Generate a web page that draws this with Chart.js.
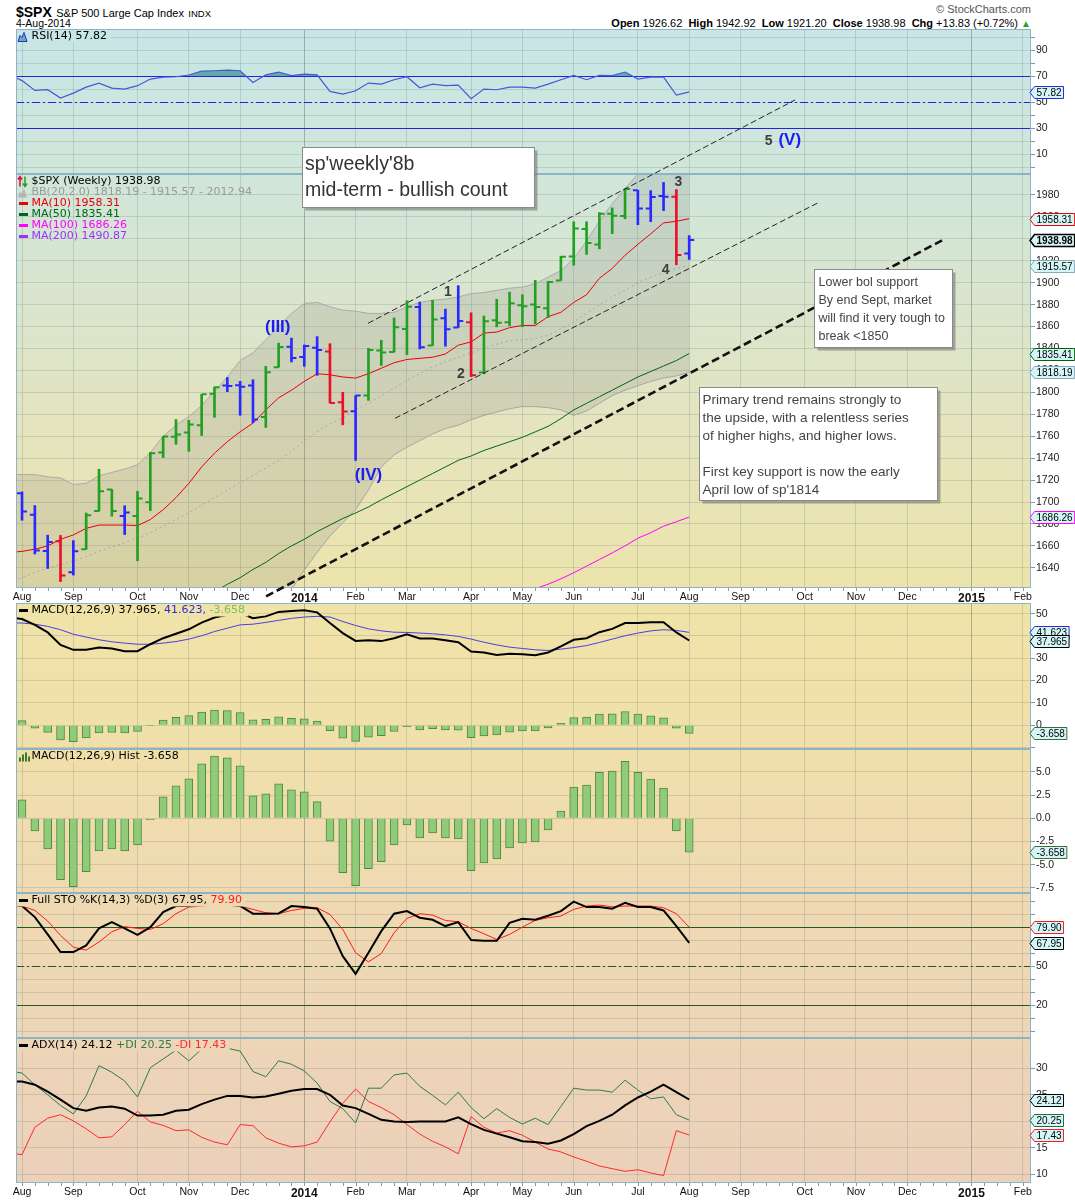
<!DOCTYPE html>
<html>
<head>
<meta charset="utf-8">
<title>$SPX weekly</title>
<script src="https://cdn.jsdelivr.net/npm/chart.js@4.4.1/dist/chart.umd.min.js"></script>
<style>
  body { margin: 0; width: 1075px; height: 1200px; background: #fff; position: relative; overflow: hidden; font-family: "Liberation Sans", Arial, sans-serif; }
  canvas { position: absolute; left: 0; }
  .hd { position: absolute; white-space: nowrap; color: #000; line-height: 1; }
  .hd b { font-weight: bold; }
</style>
</head>
<body>
<div class="hd" style="left:16px;top:4px"><span style="font-weight:bold;font-size:14px">$SPX</span> <span style="font-size:11px">S&amp;P 500 Large Cap Index</span> <span style="font-size:9.5px">INDX</span></div>
<div class="hd" style="left:16px;top:18px;font-size:10.5px">4-Aug-2014</div>
<div class="hd" style="right:44px;top:4px;font-size:11px;color:#555">&copy; StockCharts.com</div>
<div class="hd" id="quote" style="right:44px;top:18px;font-size:11px"></div>

<canvas id="rsi" width="1075" height="145" style="top:29px"></canvas>
<canvas id="macd" width="1075" height="146" style="top:603px"></canvas>
<canvas id="hist" width="1075" height="144" style="top:749px"></canvas>
<canvas id="sto" width="1075" height="145" style="top:893px"></canvas>
<canvas id="adx" width="1075" height="162" style="top:1038px"></canvas>
<canvas id="price" width="1075" height="605" style="top:0px"></canvas>

<script>
const X_MIN = -0.47, X_MAX = 78.64;
const AX = '"Liberation Sans", Arial, sans-serif';
const LG = '"DejaVu Sans", Verdana, sans-serif';
Chart.defaults.font.family = AX;

// weekly axis: week 0 = 5-Aug-2013 ... week 52 = 4-Aug-2014; series start one week earlier (29-Jul-2013)
const monthTicks = [0, 4, 9, 13, 17, 22, 26, 30, 35, 39, 43, 48, 52, 56, 61, 65, 69, 74, 78];
const monthLabels = ['Aug', 'Sep', 'Oct', 'Nov', 'Dec', '2014', 'Feb', 'Mar', 'Apr', 'May', 'Jun', 'Jul', 'Aug', 'Sep', 'Oct', 'Nov', 'Dec', '2015', 'Feb'];

const opens = [1685.97, 1708.01, 1688.37, 1655.25, 1664.29, 1635.95, 1656.85, 1691.70, 1711.44, 1687.26, 1687.15, 1699.86, 1745.20, 1759.42, 1763.40, 1769.96, 1798.82, 1806.33, 1806.55, 1806.21, 1777.48, 1822.92, 1841.47, 1832.31, 1840.76, 1837.28, 1791.03, 1782.68, 1797.02, 1838.22, 1836.78, 1857.68, 1877.86, 1842.81, 1867.67, 1859.16, 1863.92, 1818.18, 1865.79, 1864.00, 1879.45, 1880.03, 1876.66, 1902.01, 1923.87, 1948.97, 1934.84, 1962.92, 1960.79, 1984.22, 1967.68, 1979.03, 1978.25, 1926.62];
const highs = [1709.67, 1709.24, 1696.81, 1669.79, 1669.51, 1664.83, 1689.98, 1729.86, 1711.44, 1696.55, 1709.74, 1745.31, 1759.82, 1775.22, 1774.54, 1798.22, 1804.84, 1813.55, 1810.02, 1811.52, 1823.75, 1844.89, 1849.44, 1843.23, 1850.84, 1844.37, 1800.00, 1797.02, 1840.16, 1847.50, 1867.92, 1883.57, 1882.35, 1883.97, 1875.92, 1897.28, 1872.53, 1869.63, 1884.89, 1891.33, 1889.07, 1902.17, 1901.26, 1924.03, 1955.55, 1955.59, 1963.91, 1968.17, 1985.59, 1984.22, 1983.94, 1991.39, 1984.85, 1942.92];
const lows = [1684.91, 1683.37, 1652.61, 1639.43, 1627.47, 1633.41, 1656.85, 1691.70, 1687.11, 1670.36, 1646.47, 1692.13, 1740.50, 1752.70, 1746.20, 1760.64, 1777.23, 1800.58, 1779.09, 1772.28, 1767.99, 1822.92, 1827.74, 1823.73, 1815.52, 1790.29, 1770.45, 1737.92, 1792.71, 1824.58, 1836.78, 1834.44, 1839.57, 1842.81, 1842.11, 1859.16, 1814.36, 1816.89, 1859.70, 1860.76, 1859.79, 1862.36, 1868.14, 1902.01, 1915.98, 1925.78, 1930.91, 1944.69, 1958.22, 1952.86, 1955.59, 1965.72, 1916.37, 1921.20];
const closes = [1709.67, 1691.42, 1655.83, 1663.50, 1632.97, 1655.17, 1687.99, 1709.91, 1691.75, 1690.50, 1703.20, 1744.50, 1759.77, 1761.64, 1770.61, 1798.18, 1804.76, 1805.81, 1805.09, 1775.32, 1818.32, 1841.40, 1831.37, 1842.37, 1838.70, 1790.29, 1782.59, 1797.02, 1838.63, 1836.25, 1859.45, 1878.04, 1841.13, 1866.52, 1857.62, 1865.09, 1815.69, 1864.85, 1863.40, 1881.14, 1878.48, 1877.86, 1900.53, 1923.57, 1949.44, 1936.16, 1962.87, 1960.96, 1985.44, 1967.57, 1978.22, 1978.34, 1925.15, 1938.98];
// bar colouring as shown: g = green, b = blue, r = red
const impulse = ['g', 'b', 'b', 'b', 'r', 'b', 'g', 'g', 'g', 'b', 'g', 'g', 'g', 'g', 'g', 'g', 'g', 'b', 'b', 'b', 'g', 'g', 'b', 'b', 'b', 'r', 'r', 'b', 'g', 'g', 'g', 'g', 'b', 'g', 'b', 'b', 'r', 'g', 'g', 'g', 'g', 'g', 'g', 'g', 'g', 'g', 'g', 'g', 'g', 'b', 'b', 'b', 'r', 'b'];

const bbUpper = [1725, 1725, 1725, 1723, 1722, 1716, 1717, 1724, 1727, 1730, 1734, 1745, 1760, 1770, 1778, 1788, 1801, 1814, 1829, 1836, 1848, 1860, 1872, 1881, 1882, 1878, 1875, 1874, 1872, 1872, 1873, 1878, 1882, 1884, 1885, 1887, 1890, 1891, 1893, 1895, 1896, 1899, 1905, 1911, 1922, 1938, 1956, 1972, 1986, 1999, 2007, 2011, 2013, 2012.94];
const bbMiddle = [1627, 1631, 1636, 1640, 1643, 1646, 1650, 1655, 1659, 1663, 1667, 1672, 1678, 1684, 1690, 1697, 1704, 1711, 1718, 1724, 1731, 1738, 1746, 1756, 1764, 1771, 1777, 1784, 1790, 1797, 1804, 1811, 1817, 1823, 1828, 1832, 1836, 1840, 1844, 1847, 1848, 1849, 1852, 1858, 1864, 1872, 1880, 1887, 1893, 1900, 1905, 1909, 1913, 1915.57];
const bbLower = [1530, 1538, 1547, 1557, 1564, 1576, 1583, 1586, 1591, 1596, 1600, 1599, 1596, 1598, 1602, 1606, 1607, 1608, 1607, 1612, 1614, 1616, 1620, 1638, 1654, 1669, 1681, 1693, 1711, 1732, 1743, 1750, 1756, 1762, 1767, 1770, 1775, 1779, 1782, 1785, 1787, 1787, 1786, 1784, 1779, 1783, 1790, 1797, 1802, 1806, 1810, 1813, 1815, 1818.19];
const ma10 = [1654, 1655, 1657, 1660, 1666, 1670, 1676, 1679, 1679, 1679, 1678.5, 1684, 1693, 1704, 1717, 1732, 1744.5, 1755, 1764, 1772, 1784, 1795, 1802, 1810, 1817, 1816, 1814, 1813, 1817, 1822, 1827, 1830, 1831, 1832, 1835, 1843, 1846, 1854, 1855, 1859, 1861, 1861, 1869, 1873, 1882, 1889, 1904, 1913, 1925, 1935, 1944.5, 1954.5, 1956, 1958.31];
const ma50 = [null, null, null, null, null, null, null, null, null, null, null, null, null, null, null, 1612, 1618, 1625, 1631, 1638.5, 1645, 1653, 1660, 1666, 1673, 1679, 1685, 1690, 1695.5, 1702, 1708, 1714, 1720, 1726, 1732, 1738, 1742, 1747, 1751, 1755, 1759, 1764, 1769, 1776, 1784, 1790, 1796, 1802, 1808, 1814, 1819, 1824, 1829, 1835.41];
const ma100 = [null, null, null, null, null, null, null, null, null, null, null, null, null, null, null, null, null, null, null, null, null, null, null, null, null, null, null, null, null, null, null, null, null, null, null, null, null, null, null, 1614, 1617, 1621, 1625, 1630, 1635.5, 1641.5, 1647.6, 1653.6, 1660, 1667, 1672, 1678, 1682, 1686.26];
const ma200Last = 1490.87;

const rsi = [71, 66.5, 59, 59.5, 53.1, 56.9, 61.5, 64.6, 60.8, 60, 62.6, 67.7, 69.2, 69.5, 70.8, 73.8, 74.1, 74.6, 74.1, 65.1, 71, 73.1, 70.3, 71.5, 71, 58.2, 56.2, 58.7, 64.6, 63.8, 67.2, 69.5, 61, 63.8, 62.6, 63.1, 52.6, 60, 59.5, 61.5, 61.5, 60.8, 63.8, 67.2, 70.5, 67.2, 70.5, 70.3, 73.1, 67.7, 69.2, 69.2, 55.4, 57.82];
const rsiLevels = [70, 50, 30];

const macd = [48.3, 47.6, 45, 41.6, 36, 33.8, 33.8, 34.8, 34.4, 33.2, 33.2, 36.3, 39, 41, 43, 46, 48.3, 49.5, 50.3, 48, 48.8, 50.8, 51.2, 51.5, 50.6, 45.8, 41.3, 37.8, 38.1, 37.7, 39, 40.8, 38.9, 38.9, 38.1, 37.2, 33, 32.6, 31.5, 32, 31.8, 31.4, 32.6, 35.3, 38.3, 39, 41.7, 43.2, 45.8, 45.8, 46.2, 46.2, 41.6, 37.965];
const macdSignal = [46.0, 45.8, 45.3, 44.3, 42.8, 40.8, 39.5, 38.3, 37.4, 36.8, 36.3, 36.3, 36.8, 37.5, 38.6, 40.1, 42, 43.5, 45, 45.3, 46.1, 47, 47.9, 48.5, 48.8, 48.5, 46.5, 44.7, 43.2, 42.3, 41.7, 41.6, 41.3, 41, 40.5, 39.8, 38.6, 37.2, 36, 35, 34.4, 33.8, 33.5, 34.1, 34.8, 35.7, 37.1, 38.6, 40.1, 41.3, 42.3, 42.8, 42.5, 41.623];
const macdHist = [2.4, 2.0, -1.36, -3.29, -6.6, -7.36, -5.75, -3.5, -3.29, -3.5, -2.86, -0.18, 2.32, 3.5, 4.25, 5.86, 6.71, 6.5, 5.64, 2.43, 2.64, 3.71, 3.07, 2.86, 1.79, -2.46, -5.86, -7.25, -5.43, -4.68, -2.86, -0.71, -2.1, -1.57, -2.1, -2.21, -5.64, -4.79, -4.36, -3.18, -2.64, -2.54, -1.25, 0.79, 3.36, 3.57, 4.96, 5.07, 6.14, 4.96, 4.21, 3.25, -1.36, -3.658];

const stoK = [97, 96.2, 87.7, 74.4, 60.8, 60.8, 65.9, 79, 83.8, 79, 74.1, 80, 91.5, 96.2, 96.2, 97.4, 97, 97.4, 96.2, 90.3, 90.3, 90.5, 96.2, 95.4, 94.1, 79, 57.7, 44.1, 60.3, 76.9, 90.3, 92.3, 87.2, 85.6, 80.8, 83.8, 70, 69.5, 69.5, 83.3, 86.4, 85.6, 88.7, 92.3, 99.6, 95.4, 95.4, 94.1, 98.7, 95.4, 95.4, 92.8, 80.8, 67.95];
const stoD = [96.5, 96.2, 92.8, 84.6, 73.6, 64.6, 62.3, 68.5, 76.4, 80.3, 79, 78.2, 82.6, 90.3, 95.4, 96.2, 97, 97, 96.2, 93.6, 91, 90.3, 92.8, 94.4, 94.9, 89.7, 78.2, 60.3, 53.3, 59.7, 75.6, 86.7, 90.3, 89.2, 85.1, 84.1, 79, 74.9, 70.5, 74.4, 80, 85.1, 87.2, 88.5, 93.6, 96.2, 96.9, 95.6, 96.2, 96.2, 96.2, 94.9, 90.3, 79.90];
const stoLevels = [80, 50, 20];

const adx = [27.5, 27.5, 26.9, 25.6, 24.1, 22.5, 22, 22.6, 22.8, 22.4, 21.1, 21.1, 21.25, 22, 22.2, 23.25, 24.1, 24.8, 24.8, 24.5, 24.7, 25.2, 25.75, 26.1, 26.1, 25, 23, 22.5, 21.4, 20.3, 20, 19.9, 20, 20, 20, 20.75, 19.5, 18.4, 17.7, 17, 16.25, 16.1, 15.8, 16.4, 17.6, 19.1, 20.1, 21.25, 23, 24.5, 25.6, 26.9, 25.5, 24.12];
const plusDI = [29.5, 29.1, 26.9, 25, 23, 21.4, 24.8, 30.5, 29.25, 27.6, 24.6, 30.1, 31.75, 33.4, 31.4, 33.6, 33.4, 33.75, 33.25, 29.4, 28.4, 31.4, 30.75, 29.5, 27.2, 23.75, 22.4, 19.7, 26.25, 26.25, 28.75, 29.1, 26.6, 24.9, 23.1, 25.5, 22.6, 20.5, 22.4, 20.75, 19.5, 20.6, 19.4, 22.8, 26.25, 25.9, 25.9, 25.5, 27.75, 25.9, 24.25, 24.6, 21.25, 20.25];
const minusDI = [14, 13.75, 18.9, 20.6, 21.25, 20.1, 18.6, 16.9, 17.1, 19.4, 21.9, 19.9, 19.25, 18.25, 18.4, 17, 16.1, 15.6, 19.4, 19.2, 16.9, 15.9, 15.2, 15.4, 16.1, 19.9, 23.4, 26.1, 23.75, 22.6, 21.25, 19.4, 17.6, 16.25, 15.2, 13.9, 20.9, 18.9, 17.8, 18.25, 17.4, 16.1, 14.8, 14.25, 13.3, 12.5, 11.6, 11.1, 10.6, 10.9, 10.3, 9.8, 18.25, 17.43];

// hand-drawn annotations, in chart units (week, price)
const trendLines = [[26.97, 1863, 60.25, 2066.6], [29.07, 1776.3, 62.02, 1972.7], [19.02, 1614, 71.94, 1940]];
const waveLabels = [['(III)', 19.93, 1859.6], ['(IV)', 27, 1724.8], ['1', 33.2, 1891], ['2', 34.2, 1816.6], ['3', 51.15, 1991.5], ['4', 50.17, 1911], ['5', 58.2, 2029.4], ['(V)', 59.84, 2029.4]];
const notes = [
  { at: [21.82, 2023.3, 39.9, 1969.4], text: ["sp'weekly'8b", 'mid-term - bullish count'] },
  { at: [61.75, 1912.7, 72.46, 1841.5], text: ['Lower bol support', 'By end Sept, market', 'will find it very tough to', 'break <1850'] },
  { at: [52.79, 1805.1, 71.29, 1701.5], text: ['Primary trend remains strongly to', 'the upside, with a relentless series', 'of higher highs, and higher lows.', '', 'First key support is now the early', "April low of sp'1814"] }
];

// ---- styles ----
const trendStyle = [
  { color: '#222', width: 1, dash: [6, 3] },
  { color: '#222', width: 1, dash: [6, 3] },
  { color: '#111', width: 2.6, dash: [8, 4] }
];
const noteStyle = [
  { font: '19.5px ' + AX, color: '#333', padX: 2.5, first: 17.5, lead: 25.7 },
  { font: '12.5px ' + AX, color: '#444', padX: 4, first: 13.5, lead: 18 },
  { font: '13.5px ' + AX, color: '#444', padX: 3, first: 12.8, lead: 18 }
];
const barColors = { g: '#22a022', b: '#2a2aff', r: '#e8102a' };
const bgStops = [[29, [200, 230, 230]], [174, [208, 230, 218]], [300, [218, 229, 206]], [450, [230, 228, 188]], [588, [237, 228, 172]], [603, [240, 227, 168]], [749, [240, 223, 171]], [893, [239, 217, 178]], [1038, [237, 213, 183]], [1183, [235, 208, 186]]];

const pts = arr => arr.map((v, i) => ({ x: i - 1, y: v })).filter(p => p.y !== null);
const last = arr => arr[arr.length - 1];
const f2 = v => v.toFixed(2), f3 = v => v.toFixed(3);

function bgAt(y) {
  let i = 0;
  while (i < bgStops.length - 2 && y > bgStops[i + 1][0]) i++;
  const [y0, c0] = bgStops[i], [y1, c1] = bgStops[i + 1];
  const t = Math.min(1, Math.max(0, (y - y0) / (y1 - y0)));
  return 'rgb(' + c0.map((v, k) => Math.round(v + (c1[k] - v) * t)).join(',') + ')';
}

function drawIcon(c, icon, left, y) {
  const kind = Array.isArray(icon) ? icon[0] : icon;
  c.save();
  if (kind === 'dash') {
    c.strokeStyle = icon[1]; c.lineWidth = 3;
    c.beginPath(); c.moveTo(left + 3, y); c.lineTo(left + 12, y); c.stroke();
  } else if (kind === 'rsi' || kind === 'bb') {
    c.beginPath();
    c.moveTo(left + 2, y + 5); c.lineTo(left + 4, y - 1); c.lineTo(left + 6, y + 1);
    c.lineTo(left + 8, y - 4); c.lineTo(left + 11, y + 5); c.closePath();
    c.fillStyle = kind === 'rsi' ? '#5fb2b0' : '#b5b5ad'; c.fill();
    if (kind === 'rsi') { c.strokeStyle = '#2a2ad8'; c.lineWidth = 1; c.stroke(); }
  } else if (kind === 'hist') {
    c.fillStyle = '#3d7a2e';
    [[3, 4], [6, 7], [9, 9], [12, 5]].forEach(([dx, h]) => c.fillRect(left + dx, y + 5 - h, 2, h));
  } else if (kind === 'ohlc') {
    c.lineWidth = 1.5;
    c.strokeStyle = '#e0102a';
    c.beginPath(); c.moveTo(left + 4, y + 5); c.lineTo(left + 4, y - 4); c.moveTo(left + 2, y - 2); c.lineTo(left + 4, y - 5); c.lineTo(left + 6, y - 2); c.stroke();
    c.strokeStyle = '#20a020';
    c.beginPath(); c.moveTo(left + 9, y - 5); c.lineTo(left + 9, y + 4); c.moveTo(left + 7, y + 2); c.lineTo(left + 9, y + 5); c.lineTo(left + 11, y + 2); c.stroke();
  }
  c.restore();
}

function drawLegend(chart, pageTop, lines) {
  const c = chart.ctx, a = chart.chartArea;
  c.save();
  c.font = '11px ' + LG;
  c.textBaseline = 'middle';
  lines.forEach((ln, k) => {
    const y = a.top + 7.5 + k * 11;
    const w = ln.parts.reduce((s, p) => s + c.measureText(p[0]).width, 0);
    if (ln.bg) { c.fillStyle = bgAt(pageTop + y); c.fillRect(a.left + 1, y - 6, w + 18, 12); }
    drawIcon(c, ln.icon, a.left, y);
    let x = a.left + 15.5;
    ln.parts.forEach(p => { c.fillStyle = p[1]; c.fillText(p[0], x, y); x += c.measureText(p[0]).width; });
  });
  c.restore();
}

function drawTags(chart, tags) {
  const c = chart.ctx, a = chart.chartArea, ys = chart.scales.y;
  c.save();
  c.textBaseline = 'middle';
  tags.forEach(t => {
    c.font = (t.bold ? 'bold ' : '') + '10px ' + AX;
    const y = Math.round(ys.getPixelForValue(t.value)) + 0.5;
    const w = c.measureText(t.text).width + 4;
    const x0 = a.right - 1, x1 = a.right + 3.5, x2 = x1 + w;
    c.beginPath();
    c.moveTo(x0, y); c.lineTo(x1, y - 6); c.lineTo(x2, y - 6); c.lineTo(x2, y + 6); c.lineTo(x1, y + 6); c.closePath();
    c.fillStyle = '#d4f6f6'; c.fill();
    c.strokeStyle = t.border; c.lineWidth = t.bold ? 1.5 : 1; c.stroke();
    c.fillStyle = '#000';
    c.fillText(t.text, x1 + 2, y + 0.5);
  });
  c.restore();
}

function panelPlugin(pageTop, cfg) {
  return {
    id: 'panel',
    beforeDraw(chart) {
      const a = chart.chartArea, c = chart.ctx;
      const g = c.createLinearGradient(0, a.top, 0, a.bottom);
      for (let k = 0; k <= 8; k++) g.addColorStop(k / 8, bgAt(pageTop + a.top + (a.bottom - a.top) * k / 8));
      c.save(); c.fillStyle = g; c.fillRect(a.left, a.top, a.right - a.left, a.bottom - a.top); c.restore();
    },
    beforeDatasetsDraw(chart) {
      const a = chart.chartArea, c = chart.ctx, ys = chart.scales.y;
      (cfg.levels || []).forEach((v, k) => {
        c.save();
        c.strokeStyle = cfg.levelColor; c.lineWidth = 1.2;
        c.setLineDash(k === 1 ? [8, 3, 2, 3] : []);
        const py = Math.round(ys.getPixelForValue(v)) + 0.5;
        c.beginPath(); c.moveTo(a.left, py); c.lineTo(a.right, py); c.stroke();
        c.restore();
      });
    },
    afterDraw(chart) {
      const a = chart.chartArea, c = chart.ctx, xs = chart.scales.x;
      c.save();
      c.strokeStyle = '#8db3c6'; c.lineWidth = 1;
      c.strokeRect(Math.round(a.left) + 0.5, Math.round(a.top) + 0.5, Math.round(a.right - a.left) - 1, Math.round(a.bottom - a.top) - 1);
      if (cfg.xLabels) {
        c.strokeStyle = '#8a9aa2';
        c.beginPath();
        for (let w = 0; w <= 78; w++) {
          const x = Math.round(xs.getPixelForValue(w)) + 0.5;
          c.moveTo(x, a.bottom); c.lineTo(x, a.bottom + 3);
        }
        c.stroke();
      }
      c.restore();
      if (cfg.legend) drawLegend(chart, pageTop, cfg.legend);
      if (cfg.tags) drawTags(chart, cfg.tags);
    }
  };
}

function xAxis(show) {
  const isYear = i => /^\d/.test(monthLabels[i] || '');
  return {
    type: 'linear', min: X_MIN, max: X_MAX, offset: false,
    afterBuildTicks: s => { s.ticks = monthTicks.map(v => ({ value: v })); },
    afterFit: s => { s.height = show ? 17 : 0; s.paddingLeft = 0; s.paddingRight = 0; },
    border: { display: false },
    grid: { offset: false, drawTicks: false, color: c => isYear(c.index) ? 'rgba(90,110,105,0.45)' : 'rgba(110,130,125,0.26)' },
    ticks: {
      display: show, autoSkip: false, maxRotation: 0, padding: 3, color: '#111',
      callback: (v, i) => monthLabels[i],
      font: c => isYear(c.index) ? { family: AX, size: 12, weight: 'bold' } : { family: AX, size: 10.5 }
    }
  };
}

function yAxis(o) {
  return {
    position: 'right', min: o.min, max: o.max,
    afterBuildTicks: s => { s.ticks = o.ticks.map(v => ({ value: v })); },
    afterFit: s => { s.width = 44; s.paddingTop = 0; s.paddingBottom = 0; },
    border: { display: false },
    grid: { color: 'rgba(90,110,110,0.2)', tickLength: 4, tickColor: '#7d98a6' },
    ticks: { autoSkip: false, padding: 1, color: '#222', font: { family: AX, size: 10.5 }, callback: o.label }
  };
}

function makeChart(id, pageTop, cfg) {
  return new Chart(document.getElementById(id), {
    type: 'bar',
    data: { datasets: cfg.datasets },
    options: {
      responsive: false, animation: false, events: [],
      layout: { padding: { left: 16, right: 0, top: cfg.padTop || 0, bottom: 0 } },
      plugins: { legend: { display: false }, tooltip: { enabled: false } },
      elements: { point: { radius: 0 }, line: { borderWidth: 1, tension: 0 } },
      scales: { x: xAxis(!!cfg.xLabels), y: yAxis(cfg.y) }
    },
    plugins: [panelPlugin(pageTop, cfg)].concat(cfg.extra || [])
  });
}

const line = (arr, color, width, extra) => Object.assign({ type: 'line', data: pts(arr), borderColor: color, borderWidth: width, pointRadius: 0, fill: false }, extra || {});
const range = (a, b, step) => { const r = []; for (let v = a; v <= b + 1e-9; v += step) r.push(+v.toFixed(2)); return r; };

// ---- RSI ----
makeChart('rsi', 29, {
  y: { min: -5.3, max: 106.2, ticks: range(0, 100, 10), label: v => (v % 20 === 10 ? v : '') },
  levels: rsiLevels, levelColor: '#2424d8',
  datasets: [line(rsi, '#4a56d8', 1.2, { fill: { target: { value: 70 }, above: 'rgba(78,160,160,0.85)', below: 'rgba(0,0,0,0)' } })],
  legend: [{ icon: 'rsi', bg: true, parts: [['RSI(14) ' + f2(last(rsi)), '#000']] }],
  tags: [{ value: last(rsi), text: f2(last(rsi)), border: '#2a2ae0' }]
});

// ---- MACD ----
makeChart('macd', 603, {
  y: { min: -10.7, max: 54.8, ticks: range(-10, 50, 10), label: v => (v >= 0 ? v : '') },
  datasets: [
    line(macd, '#000', 2),
    line(macdSignal, '#4b3fe0', 1),
    { type: 'bar', data: pts(macdHist), backgroundColor: '#8fcb78', borderColor: '#4e8c3e', borderWidth: 1, barThickness: 8 }
  ],
  legend: [{ icon: ['dash', '#000'], bg: true, parts: [['MACD(12,26,9) ' + f3(last(macd)) + ',', '#000'], [' ' + f3(last(macdSignal)) + ',', '#2a2ae0'], [' ' + f3(last(macdHist)), '#7cc05a']] }],
  tags: [
    { value: last(macdSignal), text: f3(last(macdSignal)), border: '#2a2ae0' },
    { value: last(macd), text: f3(last(macd)), border: '#000' },
    { value: last(macdHist), text: f3(last(macdHist)), border: '#3d6e32' }
  ]
});

// ---- MACD histogram ----
makeChart('hist', 749, {
  y: { min: -8.04, max: 7.46, ticks: [-7.5, -5, -2.5, 0, 2.5, 5], label: v => v.toFixed(1) },
  datasets: [{ type: 'bar', data: pts(macdHist), backgroundColor: '#8fcb78', borderColor: '#4e8c3e', borderWidth: 1, barThickness: 8 }],
  legend: [{ icon: 'hist', bg: true, parts: [['MACD(12,26,9) Hist ' + f3(last(macdHist)), '#000']] }],
  tags: [{ value: last(macdHist), text: f3(last(macdHist)), border: '#3d6e32' }]
});

// ---- Full stochastics ----
makeChart('sto', 893, {
  y: { min: -5.2, max: 106.2, ticks: range(0, 100, 10), label: v => ([20, 50, 80].includes(v) ? v : '') },
  levels: stoLevels, levelColor: '#1e5c1e',
  datasets: [line(stoK, '#000', 2), line(stoD, '#ff1a1a', 1)],
  legend: [{ icon: ['dash', '#000'], bg: true, parts: [['Full STO %K(14,3) %D(3) ' + f2(last(stoK)) + ',', '#000'], [' ' + f2(last(stoD)), '#ff1a1a']] }],
  tags: [
    { value: last(stoD), text: f2(last(stoD)), border: '#ff1a1a' },
    { value: last(stoK), text: f2(last(stoK)), border: '#000' }
  ]
});

// ---- ADX ----
makeChart('adx', 1038, {
  xLabels: true,
  y: { min: 8.4, max: 35.7, ticks: [10, 15, 20, 25, 30], label: v => v },
  datasets: [line(adx, '#000', 2), line(plusDI, '#2d7b4b', 1), line(minusDI, '#ff2a2a', 1)],
  legend: [{ icon: ['dash', '#000'], bg: true, parts: [['ADX(14) ' + f2(last(adx)), '#000'], [' +DI ' + f2(last(plusDI)), '#2d7b4b'], [' -DI ' + f2(last(minusDI)), '#ff2a2a']] }],
  tags: [
    { value: last(adx), text: f2(last(adx)), border: '#000' },
    { value: last(plusDI), text: f2(last(plusDI)), border: '#1d6b45' },
    { value: last(minusDI), text: f2(last(minusDI)), border: '#ff1a1a' }
  ]
});

// ---- price panel ----
const ohlcTicks = {
  id: 'ohlcTicks',
  afterDatasetsDraw(chart) {
    const c = chart.ctx, a = chart.chartArea, xs = chart.scales.x, ys = chart.scales.y;
    c.save();
    c.beginPath(); c.rect(a.left, a.top, a.right - a.left, a.bottom - a.top); c.clip();
    c.lineWidth = 2;
    opens.forEach((o, i) => {
      const x = xs.getPixelForValue(i - 1);
      const yo = ys.getPixelForValue(o), yc = ys.getPixelForValue(closes[i]);
      c.strokeStyle = barColors[impulse[i]];
      c.beginPath(); c.moveTo(x - 5, yo); c.lineTo(x, yo); c.moveTo(x, yc); c.lineTo(x + 5, yc); c.stroke();
    });
    c.restore();
  }
};

const priceNotes = {
  id: 'priceNotes',
  afterDraw(chart) {
    const c = chart.ctx, xs = chart.scales.x, ys = chart.scales.y;
    const px = v => xs.getPixelForValue(v), py = v => ys.getPixelForValue(v);
    c.save();
    trendLines.forEach((t, k) => {
      const st = trendStyle[k];
      c.strokeStyle = st.color; c.lineWidth = st.width; c.setLineDash(st.dash);
      c.beginPath(); c.moveTo(px(t[0]), py(t[1])); c.lineTo(px(t[2]), py(t[3])); c.stroke();
    });
    c.setLineDash([]);
    c.textAlign = 'center'; c.textBaseline = 'middle';
    waveLabels.forEach(([txt, x, y]) => {
      const roman = txt.startsWith('(');
      c.font = (roman ? 'bold 17px ' : 'bold 14px ') + AX;
      c.fillStyle = roman ? '#1c1cf5' : '#3d3d3d';
      c.fillText(txt, px(x), py(y));
    });
    c.textAlign = 'left';
    notes.forEach((n, k) => {
      const st = noteStyle[k];
      const x0 = Math.round(px(n.at[0])) + 0.5, y0 = Math.round(py(n.at[1])) + 0.5;
      const x1 = Math.round(px(n.at[2])) + 0.5, y1 = Math.round(py(n.at[3])) + 0.5;
      c.fillStyle = 'rgba(110,110,110,0.55)'; c.fillRect(x0 + 3, y0 + 3, x1 - x0, y1 - y0);
      c.fillStyle = '#fff'; c.fillRect(x0, y0, x1 - x0, y1 - y0);
      c.strokeStyle = '#8a8a8a'; c.lineWidth = 1; c.strokeRect(x0, y0, x1 - x0, y1 - y0);
      c.font = st.font; c.fillStyle = st.color;
      n.text.forEach((ln, j) => c.fillText(ln, x0 + st.padX, y0 + st.first + j * st.lead));
    });
    c.restore();
  }
};

makeChart('price', 0, {
  padTop: 174, xLabels: true,
  y: { min: 1621.6, max: 1999.1, ticks: range(1640, 1980, 20), label: v => v },
  datasets: [
    { type: 'bar', data: highs.map((h, i) => ({ x: i - 1, y: [lows[i], h] })), backgroundColor: impulse.map(k => barColors[k]), borderWidth: 0, barThickness: 2 },
    line(ma10, '#e8000b', 1),
    line(ma50, '#00641e', 1),
    line(ma100, '#ff00ff', 1),
    line(bbMiddle, '#a9a9a9', 1, { borderDash: [2, 3] }),
    line(bbUpper, '#ababab', 1, { fill: { target: '+1' }, backgroundColor: 'rgba(120,120,120,0.17)' }),
    line(bbLower, '#ababab', 1)
  ],
  extra: [ohlcTicks, priceNotes],
  legend: [
    { icon: 'ohlc', parts: [['$SPX (Weekly) ' + f2(last(closes)), '#000']] },
    { icon: 'bb', parts: [['BB(20,2.0) ' + f2(last(bbLower)) + ' - ' + f2(last(bbMiddle)) + ' - ' + f2(last(bbUpper)), '#9a9a9a']] },
    { icon: ['dash', '#e8000b'], parts: [['MA(10) ' + f2(last(ma10)), '#e8000b']] },
    { icon: ['dash', '#00641e'], parts: [['MA(50) ' + f2(last(ma50)), '#00641e']] },
    { icon: ['dash', '#ff00ff'], parts: [['MA(100) ' + f2(last(ma100)), '#ff00ff']] },
    { icon: ['dash', '#9b30ff'], parts: [['MA(200) ' + f2(ma200Last), '#9b30ff']] }
  ],
  tags: [
    { value: last(ma10), text: f2(last(ma10)), border: '#e8000b' },
    { value: last(closes), text: f2(last(closes)), border: '#000', bold: true },
    { value: last(bbMiddle), text: f2(last(bbMiddle)), border: '#8aa7b5' },
    { value: last(ma50), text: f2(last(ma50)), border: '#006400' },
    { value: last(bbLower), text: f2(last(bbLower)), border: '#8aa7b5' },
    { value: last(ma100), text: f2(last(ma100)), border: '#ff00ff' }
  ]
});

// quote line in the header
const chg = last(closes) - closes[closes.length - 2];
const pct = chg / closes[closes.length - 2] * 100;
document.getElementById('quote').innerHTML =
  '<b>Open</b> ' + f2(last(opens)) + ' &nbsp;<b>High</b> ' + f2(last(highs)) + ' &nbsp;<b>Low</b> ' + f2(last(lows)) +
  ' &nbsp;<b>Close</b> ' + f2(last(closes)) + ' &nbsp;<b>Chg</b> ' + (chg >= 0 ? '+' : '') + f2(chg) +
  ' (' + (pct >= 0 ? '+' : '') + f2(pct) + '%) <span style="color:#2a9d2a;font-size:10px">&#9650;</span>';
</script>
</body>
</html>
